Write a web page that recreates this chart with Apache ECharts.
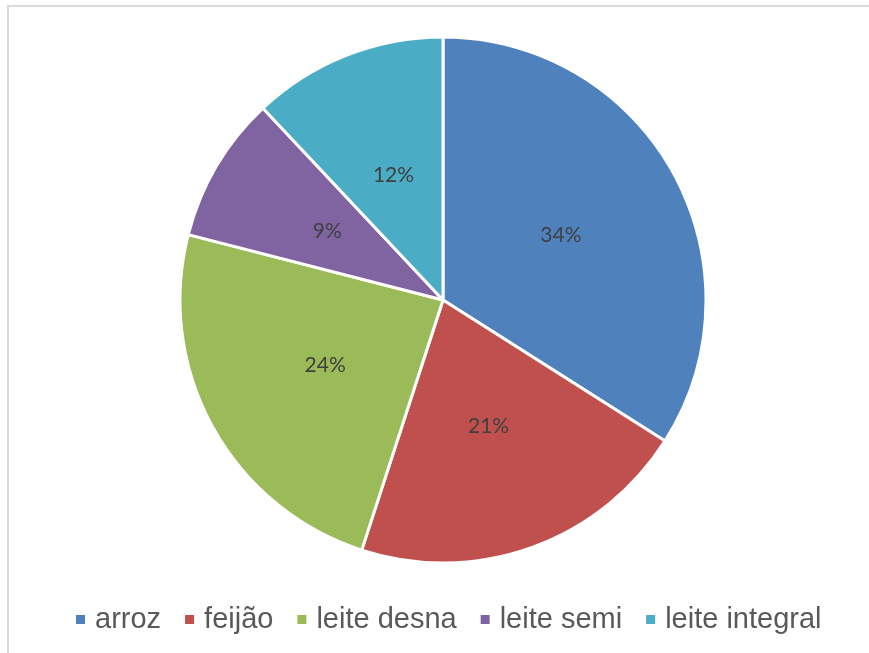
<!DOCTYPE html>
<html>
<head>
<meta charset="utf-8">
<script src="https://cdn.jsdelivr.net/npm/echarts@6/dist/echarts.min.js"></script>
<style>
  html, body { margin: 0; padding: 0; background: #fff; }
  .frame {
    position: absolute; left: 7px; top: 5px; width: 862px; height: 648px;
    border-top: 2px solid #d9d9d9; border-left: 2px solid #d9d9d9;
  }
  #chart { position: absolute; left: 0; top: 0; width: 869px; height: 653px; }
</style>
</head>
<body>
<div class="frame"></div>
<div id="chart"></div>
<script>
// categorias e percentuais
const categorias = ["arroz", "feijão", "leite desna", "leite semi", "leite integral"];
const valores = [34, 21, 24, 9, 12];
const cores = ["#4f81bd", "#c0504d", "#9bbb59", "#8064a2", "#4bacc6"];

let dados = [];
for (let i = 0; i < categorias.length; i++) {
  dados.push({ name: categorias[i], value: valores[i], itemStyle: { color: cores[i] } });
}

let myChart = echarts.init(document.getElementById("chart"));
myChart.setOption({
  animation: false,
  legend: {
    data: categorias,
    bottom: 14,
    left: 69,
    icon: "rect",
    itemWidth: 11,
    itemHeight: 11,
    itemGap: 22,
    textStyle: {
      fontFamily: "Liberation Sans, Arial",
      fontSize: 29,
      color: "#595959",
      padding: [0, 0, 0, 4],
    },
  },
  series: [
    {
      type: "pie",
      center: [443, 300],
      radius: [0, 263],
      startAngle: 90,
      clockwise: true,
      data: dados,
      itemStyle: { borderColor: "#fff", borderWidth: 3 },
      label: {
        show: true,
        position: "inside",
        formatter: "{c}%",
        fontFamily: "Lato, Open Sans, sans-serif",
        fontSize: 21,
        color: "#404040",
      },
      labelLine: { show: false },
    },
  ],
});
</script>
</body>
</html>
